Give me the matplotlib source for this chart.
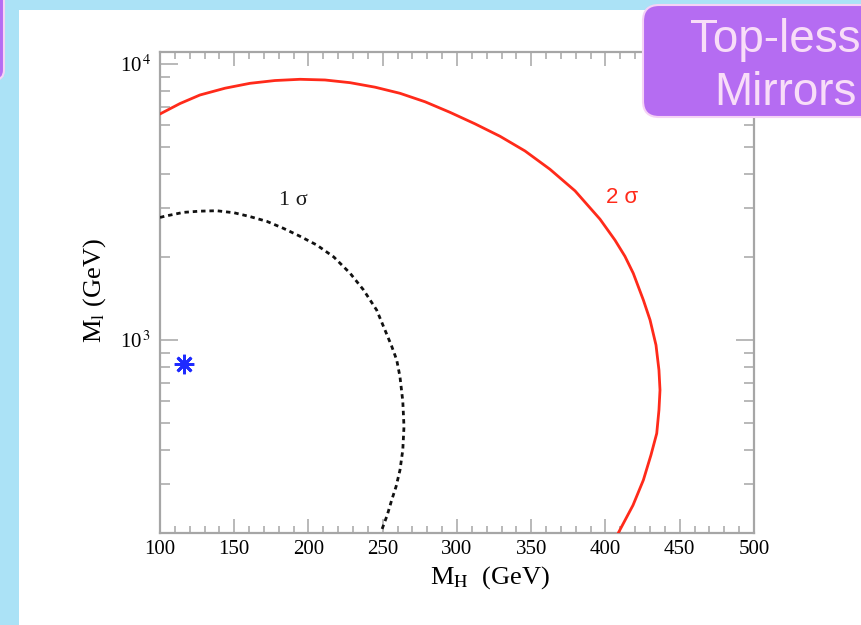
import matplotlib
matplotlib.use('Agg')
import matplotlib.pyplot as plt
from matplotlib.patches import FancyBboxPatch, Rectangle
from matplotlib.transforms import IdentityTransform
from matplotlib.ticker import FixedLocator, FixedFormatter, MultipleLocator, LogLocator, NullFormatter

# ---------------- data ----------------
sigma2_mh = [100, 113.5, 126.9, 143.8, 160.6, 177.4, 194.3, 211.1, 228.0, 244.8, 261.6,
             278.5, 295.3, 312.1, 329.0, 345.8, 362.6, 379.5, 396.3, 406.4, 413.1, 418.7,
             425.5, 430.0, 434.0, 436.0, 436.7, 436.0, 434.5, 430.6, 425.5, 418.5, 408.6]
sigma2_ml = [6590, 7190, 7720, 8170, 8510, 8710, 8800, 8750, 8555, 8240, 7830,
             7295, 6680, 6070, 5470, 4840, 4155, 3470, 2740, 2300, 2010, 1745,
             1396, 1182, 959, 778, 659, 558, 459, 383, 311, 252, 200]

sigma1_mh = [100, 103.4, 115.7, 127, 138.2, 150, 160.6, 172, 183, 194, 205.5, 217, 228,
             237, 245.9, 251.5, 256, 259.4, 261.6, 263.5, 264.3, 263.5, 261.6, 259, 256,
             253, 249.3]
sigma1_ml = [2780, 2810, 2900, 2930, 2940, 2890, 2800, 2690, 2540, 2380, 2210, 2000, 1746,
             1520, 1284, 1087, 950, 847, 736, 600, 486, 400, 338, 295, 263, 232, 205]

sm_point_mh = [116]
sm_point_ml = [820]

x_major = [100, 150, 200, 250, 300, 350, 400, 450, 500]
x_labels = ['100', '150', '200', '250', '300', '350', '400', '450', '500']
y_major = [1e3, 1e4]
y_labels = [r'10$^{\,3}$', r'10$^{\,4}$']

# ---------------- style ----------------
plt.rcParams['mathtext.fontset'] = 'stix'
plt.rcParams['font.family'] = ['Liberation Serif', 'DejaVu Serif']

W, H = 862, 625
fig = plt.figure(figsize=(W / 100, H / 100), dpi=100)
fig.patch.set_facecolor('#ABE2F6')

# white slide panel
fig.add_artist(Rectangle((19, 0), W, H - 10, transform=IdentityTransform(),
                         facecolor='white', edgecolor='none', zorder=0))

# left purple tab (cut off)
fig.add_artist(FancyBboxPatch((-40, H - 80), 44, 120,
                              boxstyle='round,pad=0,rounding_size=10',
                              transform=IdentityTransform(),
                              facecolor='#B56CF2', edgecolor='#F6D2F6', lw=1.5, zorder=5))

# top-right purple title box (cut off)
fig.add_artist(FancyBboxPatch((643, H - 117), 300, 112,
                              boxstyle='round,pad=0,rounding_size=16',
                              transform=IdentityTransform(),
                              facecolor='#B56CF2', edgecolor='#F6D2F6', lw=1.5, zorder=5))
box_font = ['Liberation Sans', 'DejaVu Sans']
fig.text(690 / W, 1 - 52 / H, 'Top-less', family=box_font, fontsize=33,
         color='#F8DDF8', ha='left', va='baseline', zorder=6)
fig.text(714 / W, 1 - 105 / H, 'Mirrors', family=box_font, fontsize=33,
         color='#F8DDF8', ha='left', va='baseline', zorder=6)

# ---------------- axes ----------------
ax = fig.add_axes([160 / W, 1 - 533 / H, 594 / W, 481 / H])
ax.set_facecolor('none')
ax.set_yscale('log')
ax.set_xlim(100, 500)
ax.set_ylim(200, 11050)

ax.plot(sigma2_mh, sigma2_ml, color='#FF2A1A', lw=2.0, solid_capstyle='round',
        solid_joinstyle='round', zorder=3)
ax.plot(sigma1_mh, sigma1_ml, color='#111111', lw=2.0, linestyle=(0, (1.6, 1.4)), zorder=3)
ax.plot(sm_point_mh, sm_point_ml, linestyle='none', marker=(8, 2, 0), markersize=14,
        markeredgewidth=2.0, color='#1F2BFF', zorder=4)

ax.text(190, 3190, '1 σ', fontsize=16, color='#1a1a1a', ha='center', va='center')
ax.text(411, 3270, '2 σ', fontsize=16, color='#FF2A1A', ha='center', va='center',
        family=['Liberation Sans', 'DejaVu Sans'])

spine_c = '#A6A6A6'
for s in ax.spines.values():
    s.set_color(spine_c)
    s.set_linewidth(1.6)

ax.xaxis.set_major_locator(FixedLocator(x_major))
ax.xaxis.set_major_formatter(FixedFormatter(x_labels))
ax.xaxis.set_minor_locator(MultipleLocator(10))
ax.yaxis.set_major_locator(FixedLocator(y_major))
ax.yaxis.set_major_formatter(FixedFormatter(y_labels))
ax.yaxis.set_minor_locator(LogLocator(base=10, subs=range(2, 10)))
ax.yaxis.set_minor_formatter(NullFormatter())

ax.tick_params(which='both', direction='in', top=True, right=True, color=spine_c, width=1.1)
ax.tick_params(axis='x', which='major', length=10, labelsize=15, pad=5)
ax.tick_params(axis='x', which='minor', length=5)
ax.tick_params(axis='y', which='major', length=13, labelsize=15, pad=6)
ax.tick_params(axis='y', which='minor', length=7)

ax.set_xlabel(r'M$_{\rm H}$  (GeV)', fontsize=19)
ax.xaxis.label.set_va('center')
ax.xaxis.set_label_coords((490 - 160) / 594, (533 - 578) / 481)
ax.set_ylabel(r'M$_{\rm l}$ (GeV)', fontsize=19)
ax.yaxis.label.set_va('center')
ax.yaxis.label.set_ha('center')
ax.yaxis.set_label_coords((95 - 160) / 594, (533 - 290) / 481)

fig.savefig('out.png', dpi=100, facecolor=fig.get_facecolor())
